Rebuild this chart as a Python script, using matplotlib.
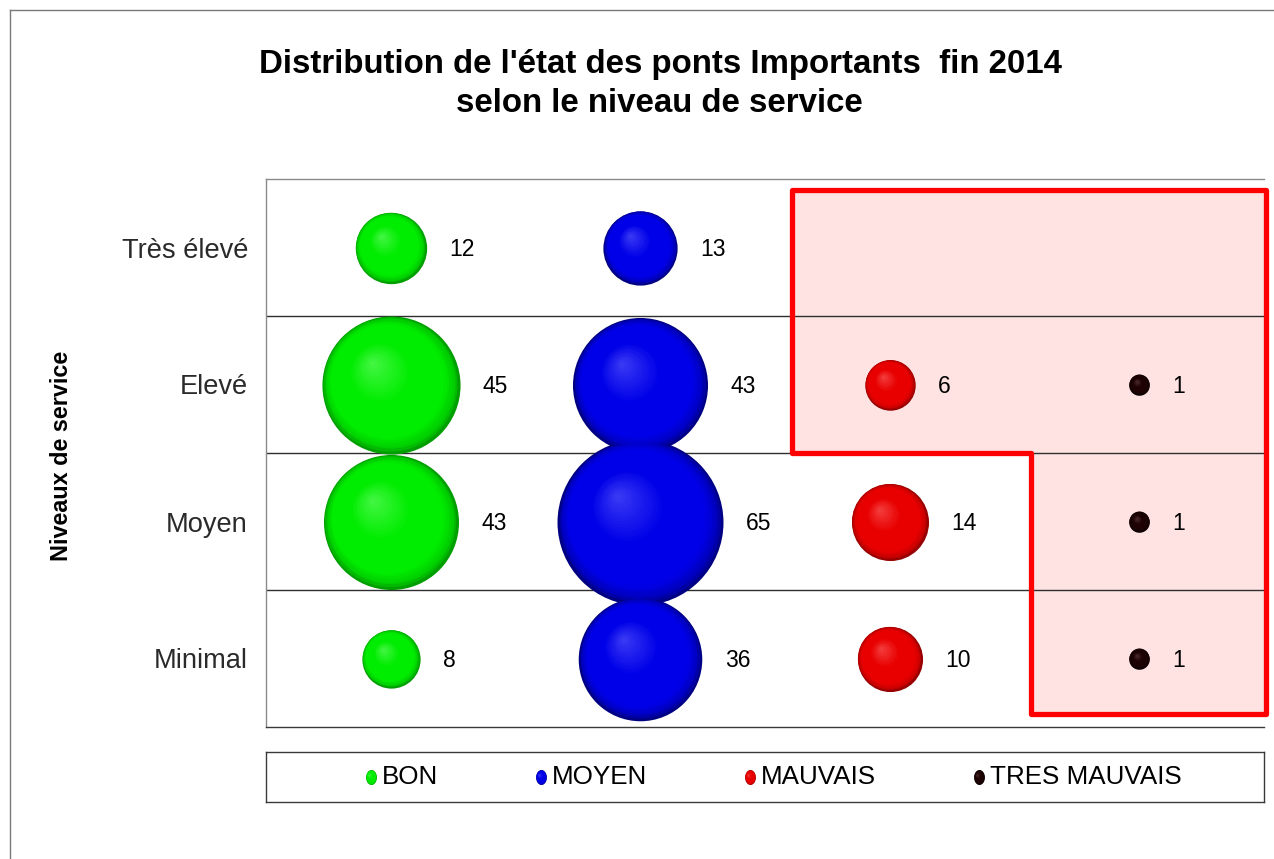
import numpy as np
import matplotlib
matplotlib.use("Agg")
import matplotlib.pyplot as plt
from matplotlib import font_manager
from matplotlib.transforms import offset_copy
from matplotlib.patches import Polygon
from matplotlib.lines import Line2D
from matplotlib.markers import MarkerStyle
from matplotlib.colors import to_rgb

# ---- data -------------------------------------------------------------
levels = ["Minimal", "Moyen", "Elevé", "Très élevé"]          # bottom -> top
states = ["BON", "MOYEN", "MAUVAIS", "TRES MAUVAIS"]
bon = [8, 43, 45, 12]
moyen = [36, 65, 43, 13]
mauvais = [10, 14, 6, None]
tres_mauvais = [1, 1, 1, None]
series = [bon, moyen, mauvais, tres_mauvais]

title_1 = "Distribution de l'état des ponts Importants  fin 2014"
title_2 = "selon le niveau de service"
y_title = "Niveaux de service"

# ---- style ------------------------------------------------------------
palette = {
    "BON": ("#00EC00", "#006A00", "#80FF80"),
    "MOYEN": ("#0000E8", "#000040", "#6E6EFF"),
    "MAUVAIS": ("#E80000", "#600000", "#FF7676"),
    "TRES MAUVAIS": ("#1C0202", "#000000", "#7A5050"),
}

names = {f.name for f in font_manager.fontManager.ttflist}
narrow = "Liberation Sans Narrow" in names
cond_family = ["Liberation Sans Narrow", "Liberation Sans"] if narrow else ["Liberation Sans"]
tick_size = 22.5 if narrow else 19.6
legend_size = 21 if narrow else 18.7
plt.rcParams["font.family"] = ["Liberation Sans", "DejaVu Sans"]

W, H = 1274, 859
fig = plt.figure(figsize=(W / 100, H / 100), dpi=100)
PX2PT = 72 / fig.dpi

ax = fig.add_axes([266 / W, 1 - 727 / H, 998 / W, 548 / H])
ax.set_xlim(0.5, 4.5)
ax.set_ylim(0.5, 4.5)
ax.set_facecolor("white")

ax.spines["right"].set_visible(False)
ax.spines["left"].set_color("#8a8a8a")
ax.spines["top"].set_color("#8a8a8a")
ax.spines["bottom"].set_color("#3a3a3a")
for s in ax.spines.values():
    s.set_linewidth(1.0)

ax.set_xticks([])
ax.set_yticks(range(1, len(levels) + 1))
ax.set_yticklabels(levels, family=cond_family, fontsize=tick_size, color="#2a2a2a")
ax.tick_params(axis="y", length=0, pad=13)

# row separators
for yb in np.arange(1.5, len(levels), 1.0):
    ax.axhline(yb, color="#2e2e2e", lw=1.0, zorder=1.5)

# highlighted zone for the poor-condition cells
zone = [(2.608, 4.42), (4.508, 4.42), (4.508, 0.595),
        (3.568, 0.595), (3.568, 2.5), (2.608, 2.5)]
ax.add_patch(Polygon(zone, closed=True, facecolor="#FFE3E3", edgecolor="none",
                     zorder=1, clip_on=False))
ax.add_patch(Polygon(zone, closed=True, facecolor="none", edgecolor="#FF0000",
                     lw=3.8, joinstyle="round", zorder=2.5, clip_on=False))


def shade(t, dark, base, light):
    dark, base, light = np.array(dark), np.array(base), np.array(light)
    stops = [(0.0, 0.6 * dark + 0.4 * base), (0.05, 0.25 * dark + 0.75 * base),
             (0.16, base), (0.55, base), (1.0, 0.45 * base + 0.55 * light)]
    for (t0, c0), (t1, c1) in zip(stops[:-1], stops[1:]):
        if t <= t1:
            u = (t - t0) / (t1 - t0)
            return tuple(np.clip((1 - u) * c0 + u * c1, 0, 1))
    return tuple(stops[-1][1])


def sphere(axis, x, y, d_pt, key, transform, marker="o", z=3, n=34):
    base, dark, light = (to_rgb(c) for c in palette[key])
    r = d_pt / 2
    hx, hy = -0.28, 0.32
    for i in range(n):
        t = i / n
        tr = offset_copy(transform, fig=fig, x=hx * r * t, y=hy * r * t, units="points")
        axis.scatter([x], [y], s=(d_pt * (1 - t)) ** 2, marker=marker,
                     color=shade(t, dark, base, light), linewidths=0,
                     transform=tr, zorder=z + i * 1e-3, clip_on=False)


# bubble diameter (px) for the largest value; area proportional to value
vmax = max(v for s in series for v in s if v is not None)
DMAX_PX = 166

for col, (key, vals) in enumerate(zip(states, series), start=1):
    for row, v in enumerate(vals, start=1):
        if v is None:
            continue
        d_pt = DMAX_PX * np.sqrt(v / vmax) * PX2PT
        sphere(ax, col, row, d_pt, key, ax.transData)
        ax.annotate(str(v), xy=(col, row), xytext=(d_pt / 2 + 16.5, -1.5),
                    textcoords="offset points", ha="left", va="center",
                    fontsize=16.5, color="black", zorder=5)

# titles
fig.text(660 / W, 1 - 64 / H, title_1, ha="center", va="center",
         fontsize=23.8, fontweight="bold")
fig.text(659 / W, 1 - 103 / H, title_2, ha="center", va="center",
         fontsize=23.8, fontweight="bold")
fig.text(62 / W, 1 - 456 / H, y_title, rotation=90, ha="center", va="center",
         fontsize=16.8, fontweight="bold")

# legend strip
lax = fig.add_axes([266 / W, 1 - 802 / H, 998 / W, 50 / H])
lax.set_xlim(266, 1264)
lax.set_ylim(802, 752)
lax.set_xticks([])
lax.set_yticks([])
for s in lax.spines.values():
    s.set_color("#3a3a3a")
    s.set_linewidth(1.0)
ang = np.linspace(0, 2 * np.pi, 40)
ellipse = MarkerStyle(np.column_stack([0.72 * np.cos(ang), np.sin(ang)]))
legend_text_x = [382, 552, 761, 990]
for key, tx in zip(states, legend_text_x):
    sphere(lax, tx - 11, 777, 15 * PX2PT, key, lax.transData, marker=ellipse, n=14)
    lax.text(tx, 777, key, ha="left", va="center", family=cond_family,
             fontsize=legend_size, color="black")

# outer chart frame
fig.add_artist(Line2D([10 / W, 10 / W], [0, 1 - 10 / H], transform=fig.transFigure,
                      color="#7a7a7a", lw=1.0))
fig.add_artist(Line2D([10 / W, 1], [1 - 10 / H, 1 - 10 / H], transform=fig.transFigure,
                      color="#7a7a7a", lw=1.0))

fig.savefig("out.png", dpi=100, facecolor="white")
